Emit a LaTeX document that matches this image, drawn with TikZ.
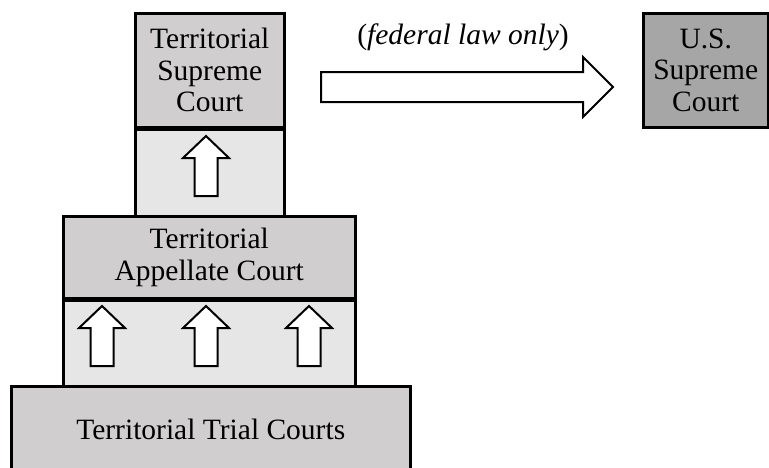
\documentclass[tikz,border=0pt]{standalone}
\usepackage{fontspec}
\setmainfont{Liberation Serif}
\usetikzlibrary{calc}
\definecolor{courtdark}{RGB}{208,206,206}
\definecolor{courtlight}{RGB}{230,230,230}
\definecolor{usgray}{RGB}{166,166,166}
\begin{document}
\begin{tikzpicture}[x=1pt,y=-1pt,
  box/.style={draw=black, line width=2.5pt, anchor=north west, inner sep=0pt, align=center, font=\fontsize{29.5}{31.5}\selectfont},
  darkbox/.style={box, fill=courtdark},
  lightbox/.style={box, fill=courtlight},
  usbox/.style={box, fill=usgray},
  blockarrow/.style={draw=black, line width=2pt, fill=white, line join=miter},
  uparrow/.pic={\draw[blockarrow] (-11.5,0) -- (-11.5,-38) -- (-23,-38) -- (0,-60) -- (23,-38) -- (11.5,-38) -- (11.5,0) -- cycle;},
  lbl/.style={font=\fontsize{29.5}{31.5}\selectfont, inner sep=0pt}
]
\useasboundingbox (0,0) rectangle (769,467);
% territorial supreme court
\node[darkbox, minimum width=149pt, minimum height=114pt] (tsc) at (134,12) {Territorial\\Supreme\\Court};
\node[lightbox, minimum width=149pt, minimum height=89pt] (tscl) at (tsc.south west) {};
% territorial appellate court
\node[darkbox, minimum width=292pt, minimum height=82pt] (tac) at (62,215) {Territorial\\Appellate Court};
\node[lightbox, minimum width=292pt, minimum height=88pt] (tacl) at (tac.south west) {};
% trial courts
\node[darkbox, minimum width=399pt, minimum height=86pt] (ttc) at (10,385) {Territorial Trial Courts};
% US supreme court
\node[usbox, minimum width=125pt, minimum height=114pt] (us) at (642,12) {U.S.\\Supreme\\Court};
% small up arrows
\pic at (206,196) {uparrow};
\pic at (102,366) {uparrow};
\pic at (206,366) {uparrow};
\pic at (309,366) {uparrow};
% big arrow to US supreme court
\coordinate (bstart) at (321,87);
\coordinate (btip) at (613,87);
\draw[blockarrow] ($(bstart)+(0,-15)$) -- ($(btip)+(-30,-15)$) -- ($(btip)+(-30,-30)$) -- (btip) -- ($(btip)+(-30,30)$) -- ($(btip)+(-30,15)$) -- ($(bstart)+(0,15)$) -- cycle;
\node[lbl] (fed) at (463,37) {(\textit{federal law only})};
\end{tikzpicture}
\end{document}
